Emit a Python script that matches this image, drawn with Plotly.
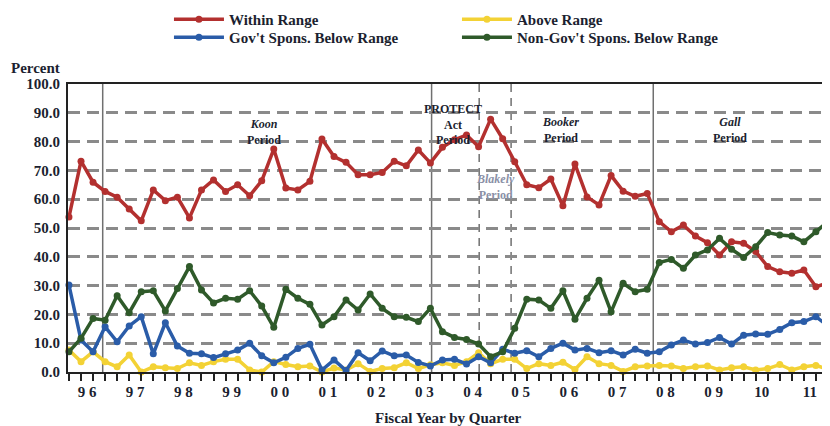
import plotly.graph_objects as go

# quarterly shares (percent), FY1996 Q1 .. FY2011 Q4
within_range = [53.8, 73.2, 65.9, 62.7, 60.7, 56.6, 52.5, 63.2, 59.5, 60.7,
                53.5, 63.2, 66.7, 62.7, 65.0, 61.2, 66.4, 77.4, 63.9, 63.2,
                66.2, 80.9, 74.8, 72.8, 68.5, 68.5, 69.3, 73.2, 71.6, 77.1,
                72.6, 78.0, 80.6, 82.3, 78.2, 87.8, 81.0, 73.0, 65.0, 64.0,
                67.0, 57.7, 72.2, 60.8, 58.0, 68.2, 62.8, 61.0, 62.0, 52.2,
                48.7, 51.0, 47.2, 44.9, 40.6, 45.2, 44.7, 41.8, 36.6, 34.8,
                34.3, 35.4, 29.6, 30.9]
above_range = [7.6, 3.6, 7.0, 3.6, 1.8, 5.9, 0.0, 1.8, 1.5, 1.2,
               3.2, 2.3, 3.6, 4.4, 4.4, 0.7, 0.0, 3.6, 2.6, 1.8,
               2.1, 0.0, 1.4, 0.7, 2.9, 0.2, 1.2, 1.5, 3.2, 1.2,
               2.5, 3.2, 2.3, 3.6, 6.7, 2.9, 4.4, 4.4, 1.2, 2.9,
               2.3, 3.4, 0.9, 5.3, 2.9, 2.3, 0.2, 1.8, 2.1, 2.3,
               2.1, 1.2, 1.8, 2.1, 0.7, 1.5, 1.8, 0.7, 1.2, 2.6,
               0.7, 1.8, 2.3, 0.9]
gov_below = [30.2, 11.1, 7.0, 15.7, 10.5, 16.0, 19.2, 6.3, 17.1, 9.0,
             6.5, 6.3, 5.0, 6.3, 7.6, 10.0, 5.6, 3.2, 5.1, 8.2,
             9.6, 0.7, 4.2, 0.5, 6.7, 3.9, 7.3, 5.6, 5.9, 3.3,
             2.1, 4.2, 4.4, 2.8, 5.3, 3.2, 7.9, 6.5, 7.4, 5.3,
             8.2, 10.0, 7.6, 8.2, 6.7, 7.4, 5.9, 7.9, 6.5, 7.0,
             9.4, 11.1, 9.7, 10.2, 12.0, 9.7, 12.8, 13.2, 13.1, 14.8,
             17.1, 17.5, 19.2, 16.0]
nongov_below = [7.0, 11.7, 18.6, 18.0, 26.5, 20.6, 27.9, 28.2, 21.2, 29.0,
                36.6, 28.5, 24.0, 25.6, 25.3, 28.2, 22.9, 15.5, 28.7, 25.6,
                23.5, 16.3, 19.2, 25.0, 21.5, 27.1, 22.1, 19.2, 19.0, 17.5,
                22.1, 14.0, 12.0, 11.3, 9.7, 5.3, 7.0, 15.2, 25.3, 25.0,
                22.1, 28.2, 18.3, 25.6, 31.9, 20.9, 30.8, 27.9, 28.7, 38.0,
                39.1, 36.0, 40.6, 42.4, 46.4, 42.6, 39.8, 43.5, 48.4, 47.6,
                47.2, 45.2, 48.7, 52.2]

fiscal_years = ["9 6", "9 7", "9 8", "9 9", "0 0", "0 1", "0 2", "0 3",
                "0 4", "0 5", "0 6", "0 7", "0 8", "0 9", "10", "11"]

# decisions / acts: (position on the quarter index, line style)
event_lines = [(2.8, "solid"), (30.1, "solid"), (34.05, "dash"),
               (36.7, "dash"), (48.5, "solid")]

ink = "#1c1f30"
# period labels: (x, y, text, colour)
period_labels = [
    (16.2, 83.5, "<i>Koon</i><br>Period", ink),
    (31.9, 86.0, "PROTECT<br>Act<br>Period", ink),
    (35.4, 64.3, "<i>Blakely</i><br>Period", "#8a90a6"),
    (40.8, 84.0, "<i>Booker</i><br>Period", ink),
    (54.9, 84.0, "<i>Gall</i><br>Period", ink),
]

quarters = list(range(len(within_range)))
serif = "Liberation Serif, Times New Roman, serif"


def trace_series(y, name, color, legend):
    return go.Scatter(x=quarters, y=y, mode="lines+markers", name="<b>" + name + "</b>",
                      line={"color": color, "width": 3.5},
                      marker={"color": color, "size": 7},
                      cliponaxis=False, legend=legend)


fig = go.Figure()
fig.add_trace(trace_series(within_range, "Within Range", "#b3302f", "legend"))
fig.add_trace(trace_series(above_range, "Above Range", "#f3d235", "legend"))
fig.add_trace(trace_series(gov_below, "Gov't Spons. Below Range", "#2a5ca8", "legend2"))
fig.add_trace(trace_series(nongov_below, "Non-Gov't Spons. Below Range", "#2f5a2a", "legend2"))

for xpos, dash in event_lines:
    fig.add_shape(type="line", x0=xpos, x1=xpos, y0=0, y1=100, xref="x", yref="y",
                  line={"color": "#707070", "width": 1.5,
                        "dash": "solid" if dash == "solid" else "8px,6px"},
                  layer="below")

for lx, ly, text, col in period_labels:
    fig.add_annotation(x=lx, y=ly, text="<b>" + text + "</b>", showarrow=False,
                       xref="x", yref="y", align="center",
                       font={"family": serif, "size": 12, "color": col})

fig.add_annotation(x=-0.008, y=1.056, xref="paper", yref="paper", text="<b>Percent</b>",
                   showarrow=False, xanchor="right", yanchor="middle",
                   font={"family": serif, "size": 15, "color": ink})
fig.add_annotation(x=0.4987, y=-0.16, xref="paper", yref="paper",
                   text="<b>Fiscal Year by Quarter</b>", showarrow=False,
                   xanchor="center", yanchor="middle",
                   font={"family": serif, "size": 15, "color": ink})

legend_style = {"orientation": "h", "x": 0.1325, "xanchor": "left", "yanchor": "top",
                "entrywidth": 223, "itemwidth": 50, "tracegroupgap": 0,
                "font": {"family": serif, "size": 15, "color": ink},
                "bgcolor": "rgba(0,0,0,0)"}

# the page body keeps its default 8px margin, so everything is drawn 8px up/left
fig.update_layout(
    width=830, height=418,
    margin={"l": 60, "r": 8, "t": 76, "b": 54, "autoexpand": False},
    paper_bgcolor="white", plot_bgcolor="white",
    font={"family": serif, "size": 15, "color": ink},
    legend={**legend_style, "y": 1.281},
    legend2={**legend_style, "y": 1.219},
    showlegend=True,
    xaxis={
        "range": [-0.08, 63.17], "showgrid": False, "zeroline": False,
        "tickvals": [1.5 + 4 * k for k in range(len(fiscal_years))],
        "ticktext": ["<b>" + t + "</b>" for t in fiscal_years], "ticks": "",
        "tickfont": {"family": serif, "size": 15, "color": ink},
        "ticklabelstandoff": 5,
        "minor": {"tick0": 0, "dtick": 1, "ticks": "outside", "ticklen": 7,
                  "tickwidth": 1.5, "tickcolor": "#222", "showgrid": False},
        "showline": True, "linecolor": "#222", "linewidth": 2, "mirror": True,
    },
    yaxis={
        "range": [0, 100], "dtick": 10, "tickformat": ".1f",
        "tickprefix": "<b>", "ticksuffix": "</b>",
        "showgrid": True, "gridcolor": "#8a8a8a", "gridwidth": 2.5, "griddash": "12px,7px",
        "zeroline": False, "showline": True, "linecolor": "#222", "linewidth": 2,
        "tickfont": {"family": serif, "size": 15, "color": ink},
        "ticks": "", "ticklabelstandoff": 3,
    },
)

fig.write_html("out.html")
